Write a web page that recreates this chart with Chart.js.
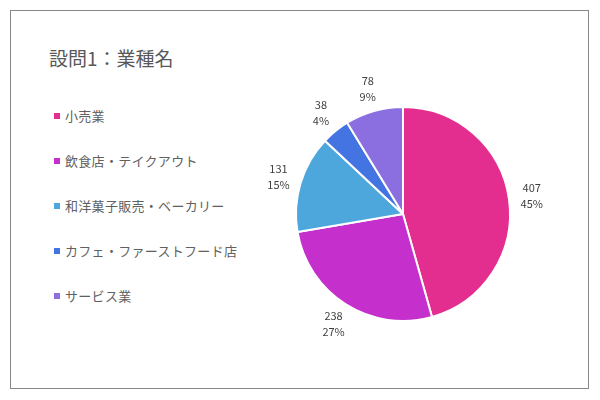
<!DOCTYPE html>
<html>
<head>
<meta charset="utf-8">
<script src="https://cdn.jsdelivr.net/npm/chart.js@4"></script>
<style>
  html, body { margin: 0; padding: 0; background: #fff; }
  #wrap { position: relative; width: 600px; height: 400px; }
  #frame { position: absolute; left: 10px; top: 10px; width: 579px; height: 379px; border: 1px solid #888; box-sizing: border-box; }
  #title { position: absolute; left: 49px; top: 44px; font: 19px "Noto Sans CJK JP", sans-serif; color: #595959; white-space: nowrap; }
  #legend { position: absolute; left: 54px; top: 106px; margin: 0; padding: 0; list-style: none; font: 13px "Noto Sans CJK JP", sans-serif; color: #606060; letter-spacing: 0.3px; }
  #legend li { height: 45px; line-height: 20px; white-space: nowrap; }
  #legend span { display: inline-block; width: 6px; height: 6px; margin-right: 5px; vertical-align: 2px; }
  canvas { position: absolute; left: 0; top: 0; }
</style>
</head>
<body>
<div id="wrap">
  <div id="frame"></div>
  <div id="title">設問1：業種名</div>
  <ul id="legend"></ul>
  <canvas id="chart" width="600" height="400"></canvas>
</div>
<script>
const categories = ["小売業", "飲食店・テイクアウト", "和洋菓子販売・ベーカリー", "カフェ・ファーストフード店", "サービス業"]
const counts = [407, 238, 131, 38, 78]
const percentLabels = ["45%", "27%", "15%", "4%", "9%"]
const colors = ["#e32d8f", "#c52fcc", "#4ea7dc", "#4473e2", "#8b6fe0"]

// value + percent outside each slice
const sliceLabels = {
  id: "sliceLabels",
  afterDatasetsDraw(chart) {
    const ctx = chart.ctx
    const meta = chart.getDatasetMeta(0)
    ctx.save()
    ctx.font = '11px "Noto Sans CJK JP", sans-serif'
    ctx.fillStyle = "#404040"
    ctx.textAlign = "center"
    ctx.textBaseline = "middle"
    meta.data.forEach((arc, i) => {
      const p = arc.getProps(["x", "y", "startAngle", "endAngle", "outerRadius"], true)
      const mid = (p.startAngle + p.endAngle) / 2
      const r = p.outerRadius + 23
      const x = p.x + Math.cos(mid) * r
      const y = p.y + Math.sin(mid) * r
      ctx.fillText(String(counts[i]), x, y - 8)
      ctx.fillText(percentLabels[i], x, y + 8)
    })
    ctx.restore()
  }
}

const chart = new Chart(document.getElementById("chart"), {
  type: "pie",
  data: {
    labels: categories,
    datasets: [{
      data: counts,
      backgroundColor: colors,
      borderColor: "#ffffff",
      borderWidth: 2
    }]
  },
  options: {
    responsive: false,
    animation: false,
    layout: { padding: { left: 295, right: 89, top: 106, bottom: 78 } },
    plugins: {
      legend: { display: false },
      tooltip: { enabled: false }
    }
  },
  plugins: [sliceLabels]
})

const legend = document.getElementById("legend")
categories.forEach((name, i) => {
  const li = document.createElement("li")
  const box = document.createElement("span")
  box.style.background = colors[i]
  li.appendChild(box)
  li.appendChild(document.createTextNode(name))
  legend.appendChild(li)
})
</script>
</body>
</html>
